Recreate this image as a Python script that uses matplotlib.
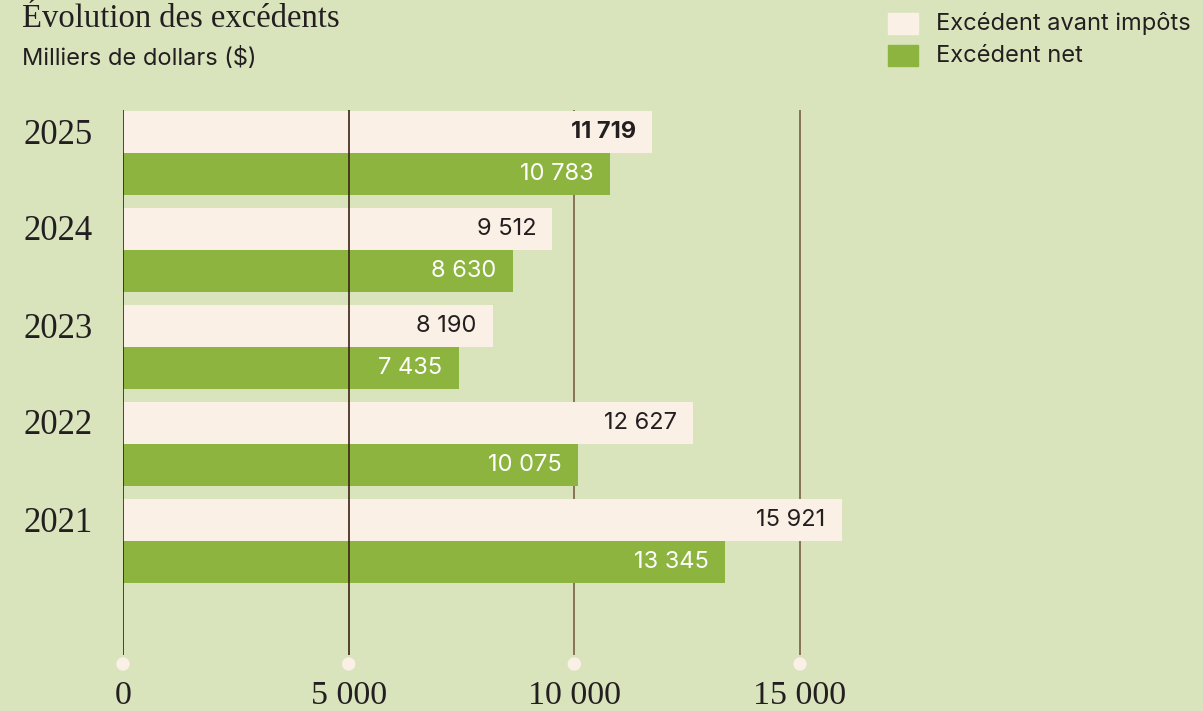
import matplotlib
matplotlib.use("Agg")
import matplotlib.pyplot as plt
from matplotlib.patches import Ellipse, Rectangle

# data
years = ["2025", "2024", "2023", "2022", "2021"]
avant_impots = [11719, 9512, 8190, 12627, 15921]
net = [10783, 8630, 7435, 10075, 13345]
xticks = [0, 5000, 10000, 15000]

BG = "#d9e4bd"
CREAM = "#fbf0e6"
GREEN = "#8cb43e"
DARK = "#231f20"
W, H = 1203, 711


def fmt(v):
    return f"{v:,}".replace(",", " ")


fig = plt.figure(figsize=(W / 100, H / 100), dpi=100, facecolor=BG)

# axes placed in pixel terms: x=0 at px 123, 1000 units ~ 45.13 px
px_per_unit = 677 / 15000
xmax = 16500
ax_left, ax_top, ax_bot = 123, 100, 670
ax = fig.add_axes([ax_left / W, 1 - ax_bot / H,
                   xmax * px_per_unit / W, (ax_bot - ax_top) / H])
ax.set_facecolor(BG)

pitch = 97  # px per group
y0_px = 153
ax.set_xlim(0, xmax)
ax.set_ylim((ax_bot - y0_px) / pitch, (ax_top - y0_px) / pitch)

bh = 42 / pitch
pos = list(range(len(years)))
ax.barh([p - bh / 2 for p in pos], avant_impots, height=bh, color=CREAM, zorder=2)
ax.barh([p + bh / 2 for p in pos], net, height=bh, color=GREEN, zorder=2)

# grid lines + dots
g_top = (110 - y0_px) / pitch
g_bot = (655 - y0_px) / pitch
for t in xticks:
    front = t <= 5000
    ax.plot([t, t], [g_top, g_bot], color="#3b2216" if front else "#7a6044",
            lw=1.2, zorder=3 if front else 1, solid_capstyle="butt")
    ax.add_patch(Ellipse((t, (664 - y0_px) / pitch), 12 / px_per_unit, 12 / pitch,
                         color=CREAM, zorder=3, clip_on=False))

pad = 16 / px_per_unit
for i, p in enumerate(pos):
    ax.text(avant_impots[i] - pad, p - bh / 2, fmt(avant_impots[i]), ha="right", va="center",
            fontsize=17, family="Inter", color=DARK,
            fontweight="bold" if i == 0 else "normal", zorder=4)
    ax.text(net[i] - pad, p + bh / 2, fmt(net[i]), ha="right", va="center",
            fontsize=17, family="Inter", color="white", zorder=4)
    ax.text(-65 / px_per_unit, p - bh / 2 + 3 / pitch, years[i], ha="center", va="center",
            fontsize=25, family="Liberation Serif", color=DARK)

# x tick labels drawn at the reference baseline
ax.set_xticks(xticks)
ax.set_xticklabels([])
ax.tick_params(axis="x", length=0)
for t in xticks:
    ax.text(t, (704 - y0_px) / pitch, fmt(t), ha="center", va="baseline",
            family="Liberation Serif", fontsize=24.5, color=DARK)
ax.set_yticks([])
for s in ax.spines.values():
    s.set_visible(False)

# title and subtitle
fig.text(22 / W, 1 - 27 / H, "Évolution des excédents", family="Liberation Serif",
         fontsize=23.5, color=DARK, va="baseline")
fig.text(22 / W, 1 - 65 / H, "Milliers de dollars ($)", family="Inter",
         fontsize=17, color=DARK, va="baseline")

# legend
for (c, lab, yc) in [(CREAM, "Excédent avant impôts", 23), (GREEN, "Excédent net", 55)]:
    fig.patches.append(Rectangle((888 / W, 1 - (yc + 11) / H), 30 / W, 21 / H,
                                 transform=fig.transFigure, color=c))
    fig.text(936 / W, 1 - (yc + 7) / H, lab, family="Inter", fontsize=17,
             color=DARK, va="baseline")

fig.savefig("out.png", dpi=100, facecolor=BG)
